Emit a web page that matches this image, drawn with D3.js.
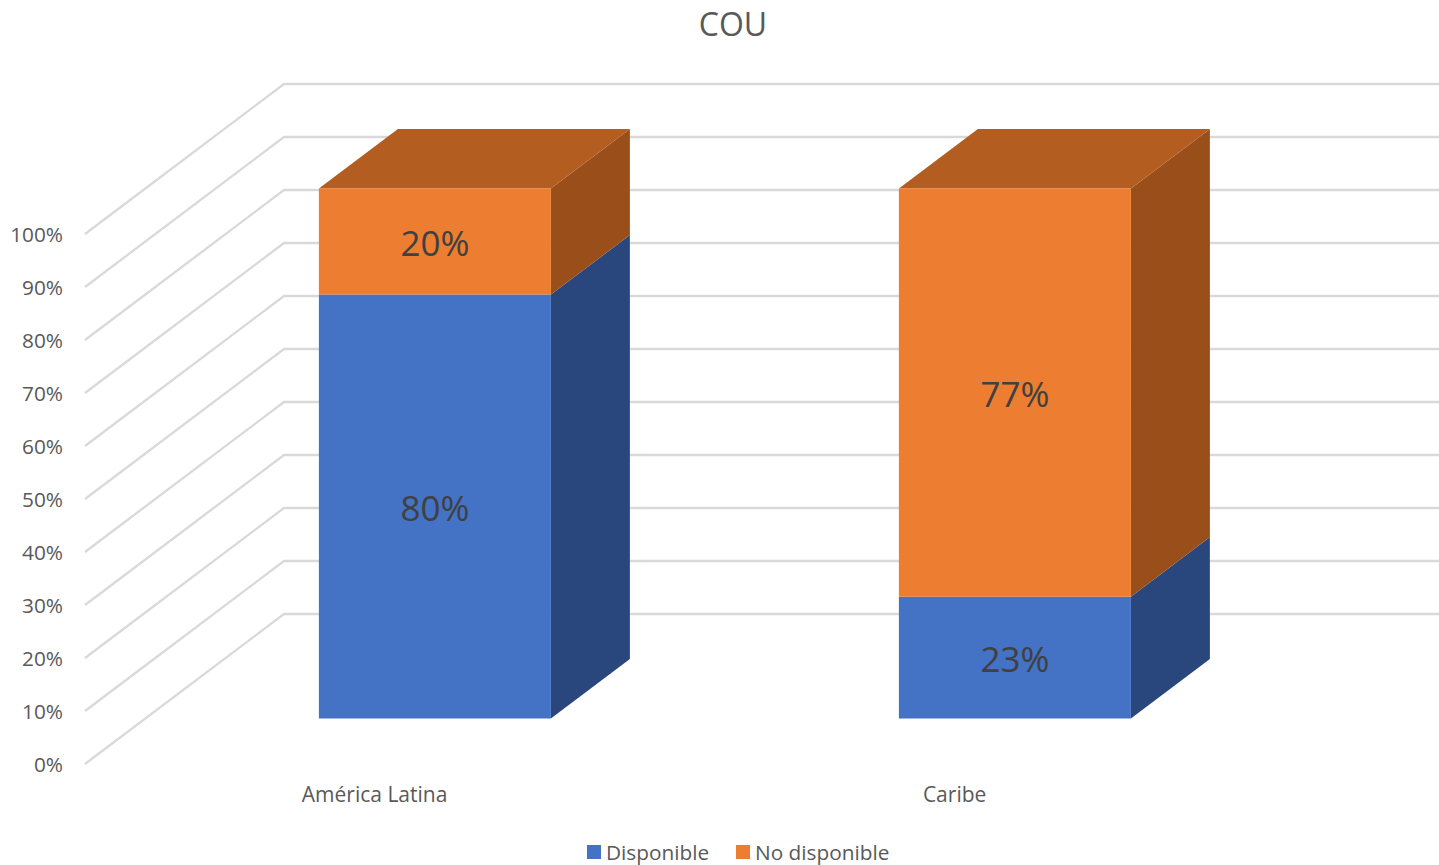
<!DOCTYPE html>
<html>
<head>
<meta charset="utf-8">
<script src="https://cdn.jsdelivr.net/npm/d3@7"></script>
<style>
  html, body { margin: 0; padding: 0; background: #fff; }
  svg { display: block; }
  text { font-family: "Open Sans", "Noto Sans", sans-serif; }
</style>
</head>
<body>
<div id="chart"></div>
<script>
// --------------------------------------
//  data
// --------------------------------------

const categories = ["América Latina", "Caribe"];
const disponible = [80, 23];
const noDisponible = [20, 77];
const ticks = [0, 10, 20, 30, 40, 50, 60, 70, 80, 90, 100];
const seriesNames = ["Disponible", "No disponible"];
const titleText = "COU";

// --------------------------------------
//  canvas
// --------------------------------------

const width = 1439;
const height = 865;

const svg = d3.select("#chart")
  .append("svg")
    .attr("width", width)
    .attr("height", height)
    .attr("viewBox", [0, 0, width, height]);

const colors = {
  front: ["#4472C4", "#ED7D31"],
  side: ["#2A477D", "#9A4F1B"],
  top: "#B45D20"
};

// --------------------------------------
//  scales: value, category and the depth of the fake 3d floor
// --------------------------------------

const y = d3.scaleLinear().domain([0, 100]).range([764, 234]);

const x = d3.scaleBand()
    .domain(categories)
    .range([84.6, 1244.6])
    .paddingInner(0.6)
    .paddingOuter(0.3);

const depthX = d3.scaleLinear().domain([0, 1]).range([0, 199]);
const depthY = d3.scaleLinear().domain([0, 1]).range([0, 150]);

const barFront = 0.303;
const barBack = 0.7;

const pt = (px, value, depth) => [px + depthX(depth), y(value) - depthY(depth)];
const poly = d3.line();

// --------------------------------------
//  gridlines
// --------------------------------------

svg.append("g")
  .selectAll("path")
  .data(ticks)
  .join("path")
    .attr("d", d => poly([[85, y(d)], pt(85, d, 1), [width, y(d) - depthY(1)]]))
    .attr("fill", "none")
    .attr("stroke", "#D9D9D9")
    .attr("stroke-width", 2.3);

// --------------------------------------
//  axes
// --------------------------------------

const yAxis = svg.append("g")
    .attr("transform", "translate(63, 0.5)")
    .call(d3.axisLeft(y).tickValues(ticks).tickFormat(d => d + "%").tickSize(0).tickPadding(0));
yAxis.select(".domain").remove();
yAxis.selectAll("text")
    .attr("fill", "#595959")
    .style("font-size", "20.8px")
    .style("font-family", '"Open Sans", sans-serif');

const xAxis = svg.append("g")
    .attr("transform", "translate(0, 795)")
    .call(d3.axisBottom(x).tickSize(0).tickPadding(0));
xAxis.select(".domain").remove();
xAxis.selectAll("text")
    .attr("fill", "#595959")
    .attr("dy", "0.35em")
    .style("font-size", "21px")
    .style("font-family", '"Open Sans", sans-serif');

// --------------------------------------
//  bars
// --------------------------------------

const stack = d3.stack().keys([0, 1]).value((d, k) => d[k]);
const rows = categories.map((c, i) => [disponible[i], noDisponible[i]]);
const layers = stack(rows);

layers.forEach((layer, k) => {
  layer.forEach((seg, i) => {
    const left = x(categories[i]);
    const right = left + x.bandwidth();
    const g = svg.append("g");

    // side face
    g.append("path")
        .attr("d", poly([
          pt(right, seg[0], barFront), pt(right, seg[0], barBack),
          pt(right, seg[1], barBack), pt(right, seg[1], barFront)
        ]) + "Z")
        .attr("fill", colors.side[k]);

    // top face, only the last series shows it
    if (k === layers.length - 1) {
      g.append("path")
          .attr("d", poly([
            pt(left, seg[1], barFront), pt(left, seg[1], barBack),
            pt(right, seg[1], barBack), pt(right, seg[1], barFront)
          ]) + "Z")
          .attr("fill", colors.top);
    }

    // front face
    g.append("path")
        .attr("d", poly([
          pt(left, seg[0], barFront), pt(right, seg[0], barFront),
          pt(right, seg[1], barFront), pt(left, seg[1], barFront)
        ]) + "Z")
        .attr("fill", colors.front[k]);

    // data label
    const mid = pt((left + right) / 2, (seg[0] + seg[1]) / 2, barFront);
    g.append("text")
        .attr("x", mid[0])
        .attr("y", mid[1] + 2.5)
        .attr("dy", "0.35em")
        .attr("text-anchor", "middle")
        .attr("fill", "#404040")
        .style("font-size", "35px")
        .text((seg[1] - seg[0]) + "%");
  });
});

// --------------------------------------
//  title and legend
// --------------------------------------

svg.append("text")
    .attr("x", 733)
    .attr("y", 25)
    .attr("dy", "0.35em")
    .attr("text-anchor", "middle")
    .attr("fill", "#595959")
    .style("font-size", "32px")
    .text(titleText);

const legendX = [587, 736];

const legend = svg.append("g")
  .selectAll("g")
  .data(seriesNames)
  .join("g")
    .attr("transform", (d, i) => `translate(${legendX[i]}, 845)`);

legend.append("rect")
    .attr("width", 14)
    .attr("height", 14)
    .attr("fill", (d, i) => colors.front[i]);

legend.append("text")
    .attr("x", 19)
    .attr("y", 8)
    .attr("dy", "0.35em")
    .attr("fill", "#595959")
    .style("font-size", "20.8px")
    .text(d => d);
</script>
</body>
</html>
